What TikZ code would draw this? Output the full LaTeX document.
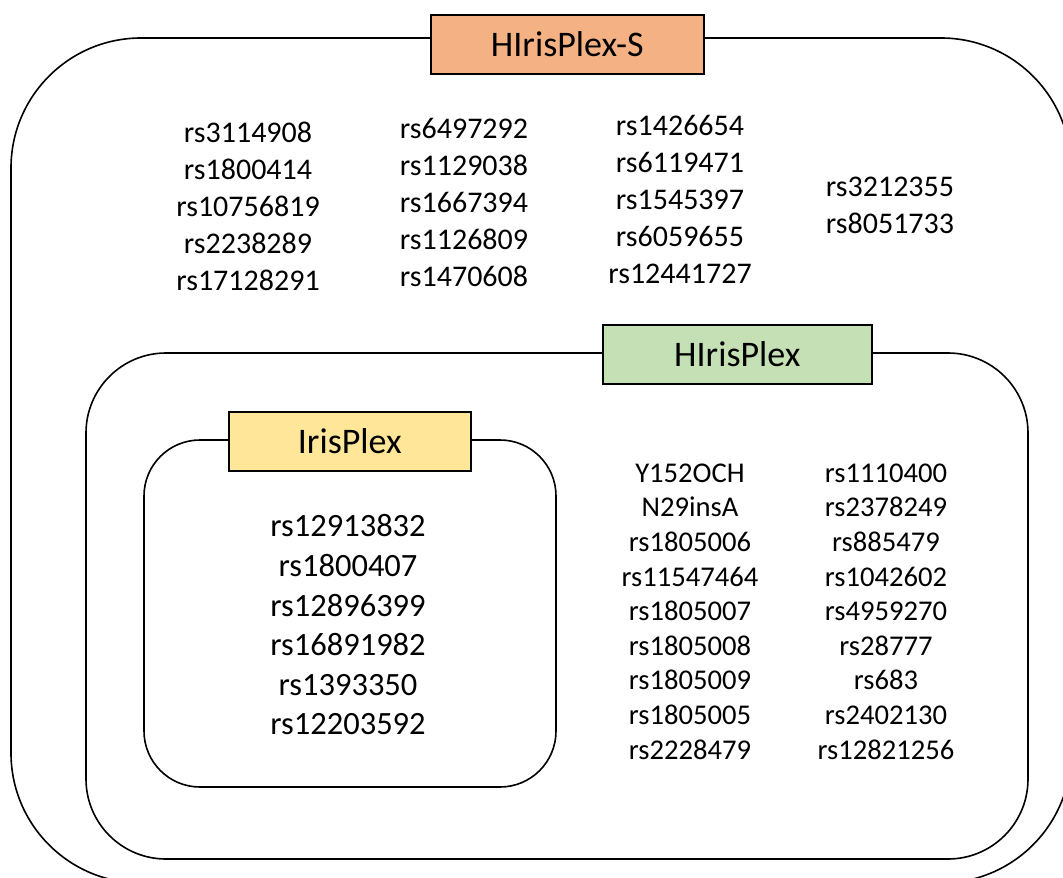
\documentclass[tikz,border=0pt]{standalone}
\usepackage{fontspec}
\setmainfont{Carlito}
\definecolor{orangefill}{HTML}{F4B183}
\definecolor{greenfill}{HTML}{C5E0B4}
\definecolor{yellowfill}{HTML}{FFE699}
\begin{document}
\begin{tikzpicture}[x=1pt,y=-1pt,
  frame/.style={draw=black,line width=1.6pt},
  tag/.style={draw=black,line width=1.6pt,minimum height=59pt,inner sep=0pt,anchor=north west,font=\fontsize{36}{40}\selectfont},
  col/.style={align=center,inner sep=0pt},
  tops/.style={col,font=\fontsize{30}{37}\selectfont},
  inner/.style={col,font=\fontsize{32.5}{39.6}\selectfont},
  mid/.style={col,font=\fontsize{28.6}{34.6}\selectfont}]
\useasboundingbox[clip] (0,0) rectangle (1063,878);
% frames
\draw[frame,rounded corners=130pt] (11,38) rectangle (1071,883);
\draw[frame,rounded corners=80pt] (86,353) rectangle (1028,859);
\draw[frame,rounded corners=56pt] (144,440) rectangle (556,787);
% labels
\node[tag,fill=orangefill,minimum width=273pt] (hs) at (430,14) {HIrisPlex-S};
\node[tag,fill=greenfill,minimum width=269pt] (h) at (602,324) {HIrisPlex};
\node[tag,fill=yellowfill,minimum width=242pt] (i) at (228,411) {IrisPlex};
% HIrisPlex-S columns
\node[tops] (c1) at (248,206.5) {rs3114908\\rs1800414\\rs10756819\\rs2238289\\rs17128291};
\node[tops] (c2) at (464,202.5) {rs6497292\\rs1129038\\rs1667394\\rs1126809\\rs1470608};
\node[tops] (c3) at (680,199) {rs1426654\\rs6119471\\rs1545397\\rs6059655\\rs12441727};
\node[tops] (c4) at (890,205.5) {rs3212355\\rs8051733};
% IrisPlex column
\node[inner] (ic) at (348,625) {rs12913832\\rs1800407\\rs12896399\\rs16891982\\rs1393350\\rs12203592};
% HIrisPlex columns
\node[mid] (ha) at (690,611.5) {Y152OCH\\N29insA\\rs1805006\\rs11547464\\rs1805007\\rs1805008\\rs1805009\\rs1805005\\rs2228479};
\node[mid] (hb) at (886,611.5) {rs1110400\\rs2378249\\rs885479\\rs1042602\\rs4959270\\rs28777\\rs683\\rs2402130\\rs12821256};
\end{tikzpicture}
\end{document}
